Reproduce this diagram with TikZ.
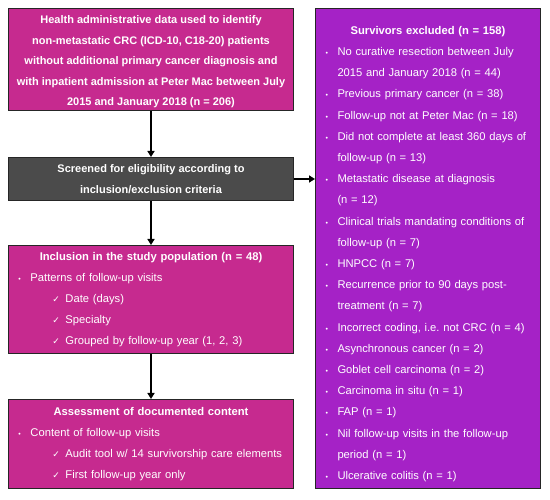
\documentclass[tikz,border=0pt]{standalone}
\usepackage{fontspec}
\setmainfont{Liberation Sans}
\newfontfamily\symfont{DejaVu Sans}
\usetikzlibrary{calc,arrows.meta}
\definecolor{boxpink}{RGB}{198,42,143}
\definecolor{boxpurple}{RGB}{165,34,198}
\definecolor{boxgray}{RGB}{75,75,75}
\frenchspacing
\newcommand{\hd}[1]{{\centering\bfseries #1\par}}
\newcommand{\blt}[1]{\par\hangindent=22pt\hangafter=1\noindent\hspace*{10pt}\makebox[12pt][l]{\scriptsize •}#1}
\newcommand{\chk}[1]{\par\noindent\hspace*{44pt}\makebox[13pt][l]{\symfont\small ✓}#1}
\tikzset{
  flowbox/.style={draw=black!85, line width=1pt, fill=boxpink, text=white,
    anchor=north west, inner xsep=0pt, inner ysep=2pt,
    font=\fontsize{11.2}{21}\selectfont},
  listbox/.style={flowbox, text width=#1, align=left},
  arr/.style={line width=1.6pt, -{Triangle[length=6pt,width=7pt]}}
}
\begin{document}
\begin{tikzpicture}[x=1pt,y=-1pt]
\useasboundingbox (0,0) rectangle (550,500);
\coordinate (P1) at (8,8);
\coordinate (P2) at (8,157);
\coordinate (P3) at (8,245);
\coordinate (P4) at (8,399);
\coordinate (PX) at (315,8);
\node[flowbox, align=center, minimum width=285pt, minimum height=102pt,
  font=\fontsize{11}{20.5}\selectfont\bfseries] (source) at (P1)
  {\rule{0pt}{13pt}Health administrative data used to identify\\
   non-metastatic CRC (ICD-10, C18-20) patients\\
   without additional primary cancer diagnosis and\\
   with inpatient admission at Peter Mac between July\\
   2015 and January 2018 (n = 206)};
\node[flowbox, fill=boxgray, align=center, minimum width=285pt, minimum height=43pt,
  font=\fontsize{11}{21.5}\selectfont\bfseries] (screen) at (P2)
  {Screened for eligibility according to\\ inclusion/exclusion criteria};
\node[listbox=285pt, minimum height=108pt] (incl) at (P3)
  {\hd{Inclusion in the study population (n = 48)}
   \blt{Patterns of follow-up visits}
   \chk{Date (days)}
   \chk{Specialty}
   \chk{Grouped by follow-up year (1, 2, 3)}};
\node[listbox=285pt, minimum height=89pt] (assess) at (P4)
  {\hd{Assessment of documented content}
   \blt{Content of follow-up visits}
   \chk{Audit tool w/ 14 survivorship care elements}
   \chk{First follow-up year only}};
\node[listbox=225pt, fill=boxpurple, minimum height=480pt,
  font=\fontsize{11.2}{21.2}\selectfont] (excl) at (PX)
  {\hd{\rule{0pt}{19pt}Survivors excluded (n = 158)}
   \blt{No curative resection between July\newline 2015 and January 2018 (n = 44)}
   \blt{Previous primary cancer (n = 38)}
   \blt{Follow-up not at Peter Mac (n = 18)}
   \blt{Did not complete at least 360 days of\newline follow-up (n = 13)}
   \blt{Metastatic disease at diagnosis\newline (n = 12)}
   \blt{Clinical trials mandating conditions of\newline follow-up (n = 7)}
   \blt{HNPCC (n = 7)}
   \blt{Recurrence prior to 90 days post-\newline treatment (n = 7)}
   \blt{Incorrect coding, i.e. not CRC (n = 4)}
   \blt{Asynchronous cancer (n = 2)}
   \blt{Goblet cell carcinoma (n = 2)}
   \blt{Carcinoma in situ (n = 1)}
   \blt{FAP (n = 1)}
   \blt{Nil follow-up visits in the follow-up\newline period (n = 1)}
   \blt{Ulcerative colitis (n = 1)}};
\draw[arr] (source) -- (screen);
\draw[arr] (screen) -- (incl);
\draw[arr] (incl) -- (assess);
\draw[arr] (screen.east) -- (screen.east -| excl.west);
\end{tikzpicture}
\end{document}
